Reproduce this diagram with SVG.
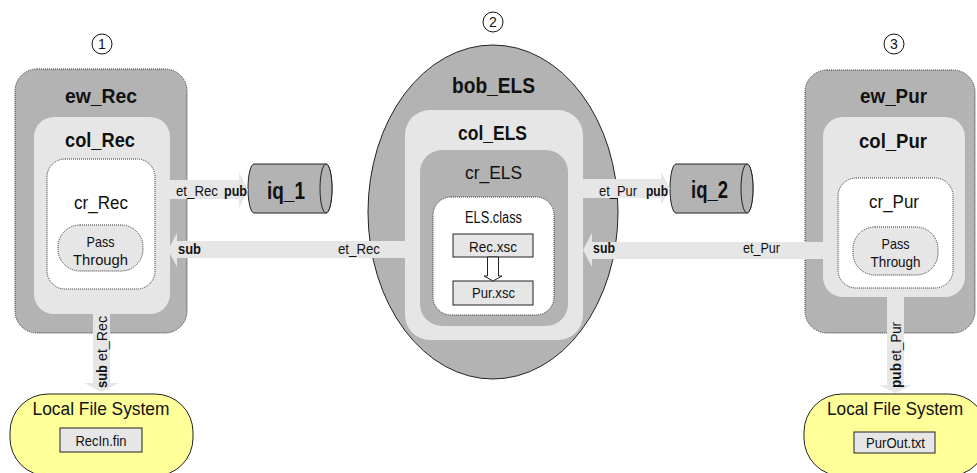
<svg xmlns="http://www.w3.org/2000/svg" width="977" height="473" viewBox="0 0 977 473">
<defs>
<style>
text{font-family:"Liberation Sans Narrow","Liberation Sans",Arial,sans-serif;fill:#111;}
.m{text-anchor:middle}
.b{font-weight:bold}
.dark{fill:#b3b3b3}
.light{fill:#e6e6e6}
.dot{stroke:#333;stroke-width:1;stroke-dasharray:1 1}
.solid{stroke:#222;stroke-width:1}
.white{fill:#fff}
.yellow{fill:#ffff99;stroke:#222;stroke-width:1}
.band{fill:#e6e6e6;stroke:none}
.num{fill:none;stroke:#111;stroke-width:1}
</style>
</defs>
<rect width="977" height="473" fill="#fff"/>

<g id="num1"><circle class="num" cx="102" cy="44" r="10"/><text class="m" x="102" y="49" font-size="14">1</text></g>
<g id="num2"><circle class="num" cx="493" cy="22" r="10"/><text class="m" x="493" y="27" font-size="14">2</text></g>
<g id="num3"><circle class="num" cx="894" cy="44" r="10"/><text class="m" x="894" y="49" font-size="14">3</text></g>

<g id="ew_Rec">
<rect class="dark dot" x="15" y="69" width="172" height="264" rx="22"/>
<text class="m b" x="101" y="103" font-size="21" textLength="72" lengthAdjust="spacingAndGlyphs">ew_Rec</text>
</g>
<g id="col_Rec">
<rect class="light" x="34" y="117" width="136" height="197" rx="20"/>
<text class="m b" x="100" y="147" font-size="20" textLength="70" lengthAdjust="spacingAndGlyphs">col_Rec</text>
</g>
<g id="cr_Rec">
<rect class="white dot" x="47" y="159" width="108" height="130" rx="18"/>
<text class="m" x="101" y="209" font-size="18" textLength="54" lengthAdjust="spacingAndGlyphs">cr_Rec</text>
</g>
<g id="pass_Rec">
<rect class="light dot" x="58" y="225" width="85" height="46" rx="22"/>
<text class="m" x="100.5" y="247" font-size="15" textLength="28" lengthAdjust="spacingAndGlyphs">Pass</text>
<text class="m" x="100.5" y="265" font-size="15" textLength="55" lengthAdjust="spacingAndGlyphs">Through</text>
</g>

<g id="bob_ELS">
<ellipse class="dark solid" cx="493" cy="212" rx="125" ry="167"/>
<text class="m b" x="493.5" y="93" font-size="22" textLength="83" lengthAdjust="spacingAndGlyphs">bob_ELS</text>
</g>
<g id="col_ELS">
<rect class="light" x="405" y="110" width="178" height="230" rx="25"/>
<text class="m b" x="492.5" y="140" font-size="20" textLength="69" lengthAdjust="spacingAndGlyphs">col_ELS</text>
</g>
<g id="cr_ELS">
<rect class="dark" x="420" y="150" width="148" height="176" rx="22"/>
<text class="m" x="493.5" y="179" font-size="19" textLength="57" lengthAdjust="spacingAndGlyphs">cr_ELS</text>
</g>
<g id="ELS_class">
<rect class="white dot" x="433" y="197" width="121" height="118" rx="18"/>
<text class="m" x="493.5" y="223" font-size="16" textLength="57" lengthAdjust="spacingAndGlyphs">ELS.class</text>
</g>
<g id="Rec_xsc">
<rect class="light solid" x="453" y="234" width="80" height="23"/>
<text class="m" x="493" y="252" font-size="15" textLength="48" lengthAdjust="spacingAndGlyphs">Rec.xsc</text>
</g>
<g id="Pur_xsc">
<rect class="light solid" x="453" y="281" width="80" height="24"/>
<text class="m" x="493.5" y="298" font-size="15" textLength="43" lengthAdjust="spacingAndGlyphs">Pur.xsc</text>
</g>

<g id="ew_Pur">
<rect class="dark dot" x="805" y="70" width="170" height="263" rx="22"/>
<text class="m b" x="893.5" y="103" font-size="21" textLength="67" lengthAdjust="spacingAndGlyphs">ew_Pur</text>
</g>
<g id="col_Pur">
<rect class="light" x="823" y="117" width="142" height="180" rx="20"/>
<text class="m b" x="893" y="148" font-size="20" textLength="68" lengthAdjust="spacingAndGlyphs">col_Pur</text>
</g>
<g id="cr_Pur">
<rect class="white dot" x="838" y="178" width="115" height="110" rx="18"/>
<text class="m" x="894" y="208" font-size="18" textLength="50" lengthAdjust="spacingAndGlyphs">cr_Pur</text>
</g>
<g id="pass_Pur">
<rect class="light dot" x="853" y="227" width="85" height="48" rx="22"/>
<text class="m" x="895.5" y="249" font-size="15" textLength="28" lengthAdjust="spacingAndGlyphs">Pass</text>
<text class="m" x="895.5" y="267" font-size="15" textLength="50" lengthAdjust="spacingAndGlyphs">Through</text>
</g>

<g id="iq_1">
<path class="dark solid" d="M254,164 H326 A6 24.5 0 0 1 326,213 H254 A6 24.5 0 0 1 254,164 Z"/>
<ellipse class="dark solid" cx="326" cy="188.5" rx="6" ry="24.5"/>
<text class="m b" x="286" y="199" font-size="24" textLength="38" lengthAdjust="spacingAndGlyphs">iq_1</text>
</g>
<g id="iq_2">
<path class="dark solid" d="M676,164 H747 A6 24.5 0 0 1 747,213 H676 A6 24.5 0 0 1 676,164 Z"/>
<ellipse class="dark solid" cx="747" cy="188.5" rx="6" ry="24.5"/>
<text class="m b" x="709.5" y="198" font-size="24" textLength="37" lengthAdjust="spacingAndGlyphs">iq_2</text>
</g>

<g id="lfs_Rec">
<rect class="yellow" x="10" y="394" width="183" height="82" rx="38"/>
<text class="m" x="101" y="415" font-size="19" textLength="137" lengthAdjust="spacingAndGlyphs">Local File System</text>
<rect class="light solid" x="60" y="428" width="82" height="24"/>
<text class="m" x="101" y="446" font-size="15" textLength="51" lengthAdjust="spacingAndGlyphs">RecIn.fin</text>
</g>
<g id="lfs_Pur">
<rect class="yellow" x="804" y="394" width="183" height="82" rx="38"/>
<text class="m" x="895" y="415" font-size="19" textLength="136" lengthAdjust="spacingAndGlyphs">Local File System</text>
<rect class="light solid" x="854" y="432" width="81" height="21"/>
<text class="m" x="895.5" y="448" font-size="15" textLength="59" lengthAdjust="spacingAndGlyphs">PurOut.txt</text>
</g>

<g id="connectors">
<path class="band" d="M170,180 H239 V172 L248,190 L239,208 V199 H170 Z"/>
<text x="176" y="196" font-size="15" textLength="42" lengthAdjust="spacingAndGlyphs">et_Rec</text>
<text class="b" x="224" y="196" font-size="15" textLength="23" lengthAdjust="spacingAndGlyphs">pub</text>

<path class="band" d="M405,241 H177 V233 L168,250 L177,267 V258 H405 Z"/>
<text class="b" x="178" y="254" font-size="15" textLength="23" lengthAdjust="spacingAndGlyphs">sub</text>
<text x="338" y="254" font-size="15" textLength="42" lengthAdjust="spacingAndGlyphs">et_Rec</text>

<path class="band" d="M583,179 H661 V172 L670,188.5 L661,205 V198 H583 Z"/>
<text x="599" y="196" font-size="15" textLength="38" lengthAdjust="spacingAndGlyphs">et_Pur</text>
<text class="b" x="646" y="196" font-size="15" textLength="22" lengthAdjust="spacingAndGlyphs">pub</text>

<path class="band" d="M823,242 H592 V233 L583,250 L592,267 V259 H823 Z"/>
<text class="b" x="593" y="253" font-size="15" textLength="22" lengthAdjust="spacingAndGlyphs">sub</text>
<text x="743" y="253" font-size="15" textLength="37" lengthAdjust="spacingAndGlyphs">et_Pur</text>

<path class="band" d="M93,314 H110 V383 H119 L101.5,392 L84,383 H93 Z"/>
<text class="b" transform="translate(107,388) rotate(-90)" font-size="15" textLength="23" lengthAdjust="spacingAndGlyphs">sub</text>
<text transform="translate(107,361) rotate(-90)" font-size="15" textLength="45" lengthAdjust="spacingAndGlyphs">et_Rec</text>

<path class="band" d="M887,297 H904 V385 H912 L895.5,393 L879,385 H887 Z"/>
<text class="b" transform="translate(901,388) rotate(-90)" font-size="15" textLength="25" lengthAdjust="spacingAndGlyphs">pub</text>
<text transform="translate(901,361) rotate(-90)" font-size="15" textLength="39" lengthAdjust="spacingAndGlyphs">et_Pur</text>

<path fill="#fff" stroke="#222" stroke-width="1" d="M487.5,257 V276 H484 L493,281 L502,276 H498.5 V257 Z"/>
</g>
</svg>
